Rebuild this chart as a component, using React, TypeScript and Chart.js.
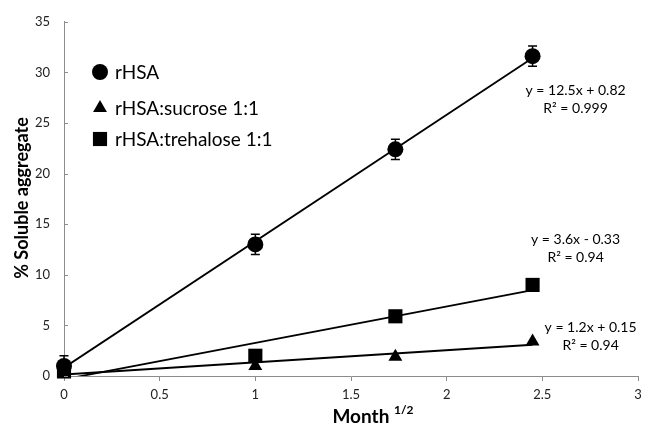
import React, { useEffect, useRef } from 'react';
import { Chart, registerables } from 'chart.js';
Chart.register(...registerables);

// ---- data ----
const xValues = [0, 1, 1.732, 2.449];
const rhsa = [1.0, 13.0, 22.4, 31.6];
const rhsaErr = [1.0, 1.0, 1.0, 1.0];
const sucrose = [0.3, 1.0, 1.9, 3.4];
const trehalose = [0.45, 2.0, 5.9, 9.0];
const seriesNames = ['rHSA', 'rHSA:sucrose 1:1', 'rHSA:trehalose 1:1'];
const trendSlopes = [12.5, 1.2, 3.6];
const trendIntercepts = [0.82, 0.15, -0.33];
const trendEq = ['y = 12.5x + 0.82', 'y = 1.2x + 0.15', 'y = 3.6x - 0.33'];
const trendR2 = ['R² = 0.999', 'R² = 0.94', 'R² = 0.94'];
const xTitle = 'Month';
const xTitleSup = '1/2';
const yTitle = '% Soluble aggregate';

const FONT = 'Lato, "Open Sans", sans-serif';
const INK = '#000000';
const AXIS = '#8c8c8c';

const seriesValues = [rhsa, sucrose, trehalose];
const markerStyles = ['circle', 'triangle', 'rect'];
const markerRadius = [8, 8, 10];
// label offsets (pixels) from last point of each series
const labelOffsets = [
  [43, 34],
  [58, -14],
  [43, -45],
];

function trendPoints(k: number) {
  const x0 = xValues[0];
  const x1 = xValues[xValues.length - 1];
  return [
    { x: x0, y: trendSlopes[k] * x0 + trendIntercepts[k] },
    { x: x1, y: trendSlopes[k] * x1 + trendIntercepts[k] },
  ];
}

function drawMarker(ctx: CanvasRenderingContext2D, style: string, x: number, y: number, r: number) {
  ctx.beginPath();
  if (style === 'circle') {
    ctx.arc(x, y, r, 0, Math.PI * 2);
  } else if (style === 'triangle') {
    ctx.moveTo(x, y - r);
    ctx.lineTo(x + r * Math.sin(Math.PI / 3), y + r / 2);
    ctx.lineTo(x - r * Math.sin(Math.PI / 3), y + r / 2);
    ctx.closePath();
  } else {
    const s = r * Math.SQRT1_2;
    ctx.rect(x - s, y - s, 2 * s, 2 * s);
  }
  ctx.fill();
}

const extrasPlugin = {
  id: 'extras',
  afterDatasetsDraw(chart: any) {
    const ctx: CanvasRenderingContext2D = chart.ctx;
    const xs = chart.scales.x;
    const ys = chart.scales.y;
    ctx.save();
    // error bars for rHSA
    ctx.strokeStyle = INK;
    ctx.lineWidth = 1.5;
    xValues.forEach((xv, i) => {
      const px = xs.getPixelForValue(xv);
      const top = ys.getPixelForValue(rhsa[i] + rhsaErr[i]);
      const bot = ys.getPixelForValue(Math.max(0, rhsa[i] - rhsaErr[i]));
      ctx.beginPath();
      ctx.moveTo(px, top);
      ctx.lineTo(px, bot);
      ctx.moveTo(px - 4.5, top);
      ctx.lineTo(px + 4.5, top);
      ctx.moveTo(px - 4.5, bot);
      ctx.lineTo(px + 4.5, bot);
      ctx.stroke();
    });
    // trend labels
    ctx.fillStyle = INK;
    ctx.font = `14px ${FONT}`;
    ctx.textAlign = 'center';
    ctx.textBaseline = 'middle';
    const last = xValues.length - 1;
    for (let k = 0; k < 3; k++) {
      const px = xs.getPixelForValue(xValues[last]) + labelOffsets[k][0];
      const py = ys.getPixelForValue(seriesValues[k][last]) + labelOffsets[k][1];
      ctx.fillText(trendEq[k], px, py);
      ctx.fillText(trendR2[k], px, py + 18);
    }
    ctx.restore();
  },
  afterDraw(chart: any) {
    const ctx: CanvasRenderingContext2D = chart.ctx;
    const area = chart.chartArea;
    const ys = chart.scales.y;
    ctx.save();
    // inside y ticks
    ctx.strokeStyle = AXIS;
    ctx.lineWidth = 1;
    ys.ticks.forEach((t: any) => {
      const py = Math.round(ys.getPixelForValue(t.value)) + 0.5;
      ctx.beginPath();
      ctx.moveTo(area.left, py);
      ctx.lineTo(area.left + 4, py);
      ctx.stroke();
    });
    // legend
    ctx.fillStyle = INK;
    const lx = 100;
    const lys = [72, 108, 139];
    ctx.font = `19px ${FONT}`;
    ctx.textAlign = 'left';
    ctx.textBaseline = 'middle';
    for (let k = 0; k < 3; k++) {
      drawMarker(ctx, markerStyles[k], lx, lys[k], markerRadius[k]);
      ctx.fillText(seriesNames[k], lx + 15, lys[k] + 1);
    }
    // x title with superscript
    ctx.font = `bold 19px ${FONT}`;
    const w1 = ctx.measureText(xTitle + ' ').width;
    ctx.font = `bold 12px ${FONT}`;
    const w2 = ctx.measureText(xTitleSup).width;
    const cx = 373;
    const startX = cx - (w1 + w2) / 2;
    ctx.textBaseline = 'alphabetic';
    ctx.font = `bold 19px ${FONT}`;
    ctx.fillText(xTitle + ' ', startX, 423);
    ctx.font = `bold 12px ${FONT}`;
    ctx.fillText(xTitleSup, startX + w1, 414);
    // y title rotated
    ctx.translate(22, 198);
    ctx.rotate(-Math.PI / 2);
    ctx.font = `bold 18px ${FONT}`;
    ctx.textAlign = 'center';
    ctx.textBaseline = 'middle';
    ctx.fillText(yTitle, 0, 0);
    ctx.restore();
  },
};

export default function App() {
  const canvasRef = useRef<HTMLCanvasElement | null>(null);

  useEffect(() => {
    if (!canvasRef.current) return;
    const pointDatasets = seriesValues.map((vals, k) => ({
      label: seriesNames[k],
      type: 'scatter' as const,
      data: xValues.map((x, i) => ({ x, y: vals[i] })),
      pointStyle: markerStyles[k],
      pointRadius: markerRadius[k],
      pointBackgroundColor: INK,
      pointBorderColor: INK,
      pointBorderWidth: 0,
      showLine: false,
      clip: false as any,
      order: 1,
    }));
    const trendDatasets = [0, 1, 2].map((k) => ({
      label: 'trend ' + seriesNames[k],
      type: 'line' as const,
      data: trendPoints(k),
      borderColor: INK,
      borderWidth: 1.8,
      pointRadius: 0,
      fill: false,
      clip: 0 as any,
      order: 0,
    }));

    const chart = new Chart(canvasRef.current, {
      type: 'scatter',
      data: { datasets: [...trendDatasets, ...pointDatasets] as any },
      options: {
        animation: false,
        responsive: true,
        maintainAspectRatio: false,
        layout: { padding: { top: 20, right: 5, left: 0, bottom: 0 } },
        plugins: {
          legend: { display: false },
          tooltip: { enabled: false },
        },
        scales: {
          x: {
            type: 'linear',
            min: 0,
            max: 3,
            ticks: {
              stepSize: 0.5,
              color: '#222',
              font: { family: FONT, size: 13 },
              padding: 6,
              callback: (v: any) => String(Number(Number(v).toFixed(1))),
            },
            grid: {
              drawOnChartArea: false,
              drawTicks: true,
              tickLength: 5,
              color: AXIS,
            },
            border: { color: AXIS, width: 1 },
            afterFit: (s: any) => {
              s.height = 49;
            },
          },
          y: {
            type: 'linear',
            min: 0,
            max: 35,
            ticks: {
              stepSize: 5,
              color: '#222',
              font: { family: FONT, size: 13 },
              padding: 14,
            },
            grid: {
              drawOnChartArea: false,
              drawTicks: false,
            },
            border: { color: AXIS, width: 1 },
            afterFit: (s: any) => {
              s.width = 64;
            },
          },
        },
      },
      plugins: [extrasPlugin],
    });
    return () => chart.destroy();
  }, []);

  return (
    <div style={{ position: 'absolute', left: 0, top: 0, width: 648, height: 425, background: '#fff' }}>
      <canvas ref={canvasRef} />
    </div>
  );
}
